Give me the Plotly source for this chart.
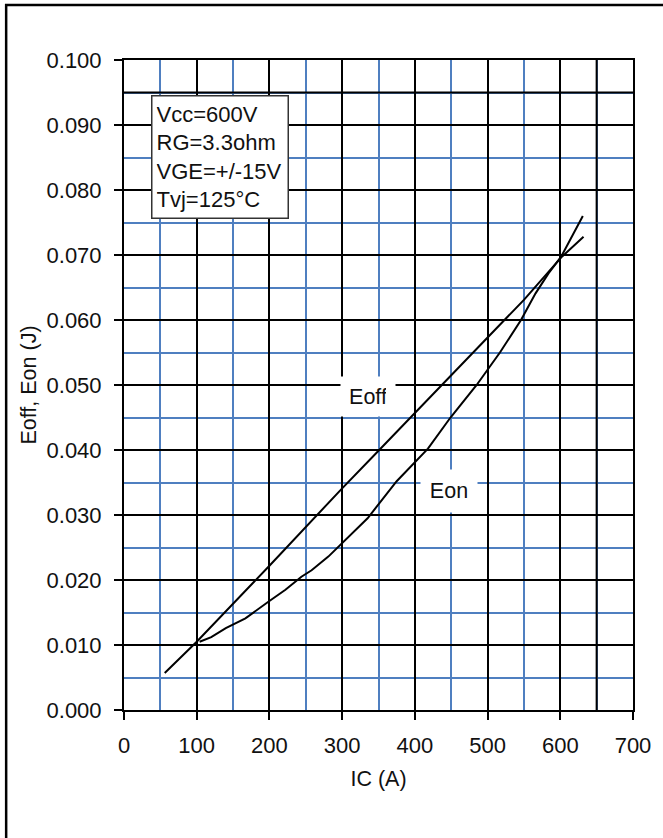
import plotly.graph_objects as go

# ---- data ----
eoff_ic = [56, 100, 200, 300, 351, 437, 523, 550, 601, 632]
eoff_e = [0.0057, 0.0105, 0.0222, 0.0341, 0.0400, 0.0500, 0.0600, 0.0631, 0.0696, 0.0728]

eon_ic = [104, 120, 140, 167, 199, 222, 244, 258, 281, 299, 335, 375, 418, 449,
          485, 517, 546, 566, 584, 601, 620, 631]
eon_e = [0.0105, 0.0112, 0.0126, 0.0141, 0.0167, 0.0185, 0.0205, 0.0215, 0.0236,
         0.0256, 0.0295, 0.0352, 0.0402, 0.0450, 0.0500, 0.0550, 0.0600, 0.0641,
         0.0672, 0.0697, 0.0738, 0.0760]

conditions = ["Vcc=600V", "RG=3.3ohm", "VGE=+/-15V", "Tvj=125°C"]
x_title = "IC (A)"
y_title = "Eoff, Eon (J)"

FONT = "Liberation Sans, Arial, sans-serif"
BLUE = "#4f7fc0"
TXT = "#111"

W, H = 663, 838
ML, MR, MT, MB = 124, 25, 60, 128
PW, PH = W - ML - MR, H - MT - MB

fig = go.Figure()
fig.add_trace(go.Scatter(x=eoff_ic, y=eoff_e, mode="lines",
                         line=dict(color="black", width=2), name="Eoff", showlegend=False))
fig.add_trace(go.Scatter(x=eon_ic, y=eon_e, mode="lines",
                         line=dict(color="black", width=2), name="Eon", showlegend=False))

axis_common = dict(
    showline=True, linecolor="black", linewidth=2, mirror=True,
    ticks="outside", ticklen=8, tickwidth=2, tickcolor="black",
    showgrid=True, gridcolor="black", gridwidth=2,
    zeroline=False,
    tickfont=dict(family=FONT, size=22, color=TXT),
)

fig.update_xaxes(range=[0, 700], dtick=100, tick0=0,
                 minor=dict(dtick=50, showgrid=True, gridcolor=BLUE, gridwidth=1.6, ticks=""),
                 title=dict(text=x_title, font=dict(family=FONT, size=21.5, color=TXT), standoff=14),
                 ticklabelstandoff=7,
                 **axis_common)
fig.update_yaxes(range=[0, 0.1], dtick=0.01, tick0=0, tickformat=".3f",
                 minor=dict(dtick=0.005, showgrid=True, gridcolor=BLUE, gridwidth=1.6, ticks=""),
                 title=dict(text=y_title, font=dict(family=FONT, size=21.5, color=TXT), standoff=4),
                 ticklabelstandoff=8,
                 **axis_common)

# grid quirks of the original: the 650 A and 0.095 J lines are black
fig.add_shape(type="line", xref="x", yref="y", x0=650, x1=650, y0=0, y1=0.1,
              line=dict(color="black", width=2), layer="between")
fig.add_shape(type="line", xref="x", yref="y", x0=0, x1=700, y0=0.095, y1=0.095,
              line=dict(color="black", width=2), layer="between")

# outer frame (only top & left visible in the reference)
fig.add_shape(type="rect", xref="paper", yref="paper",
              x0=(5 - ML) / PW, x1=(720 - ML) / PW,
              y0=1 - (900 - MT) / PH, y1=1 + (MT - 5) / PH,
              line=dict(color="black", width=2.5), fillcolor="rgba(0,0,0,0)")

# curve labels with white background
fig.add_annotation(x=335, y=0.0483, xref="x", yref="y", text="Eoff", showarrow=False,
                   font=dict(family=FONT, size=21.5, color=TXT),
                   bgcolor="white", width=36, height=21, borderpad=9)
fig.add_annotation(x=447, y=0.0337, xref="x", yref="y", text="Eon", showarrow=False,
                   font=dict(family=FONT, size=21.5, color=TXT),
                   bgcolor="white", width=38, height=24, borderpad=9)

# condition box
fig.add_annotation(x=(151.7 - ML) / PW, y=1 - (95 - MT) / PH, xref="paper", yref="paper",
                   xanchor="left", yanchor="top", showarrow=False, align="left",
                   text="<br>".join(conditions),
                   font=dict(family=FONT, size=22, color=TXT),
                   bgcolor="white", bordercolor="#333", borderwidth=1.5,
                   borderpad=4, width=127, height=113)

fig.update_layout(
    width=W, height=H,
    margin=dict(l=ML, r=MR, t=MT, b=MB),
    paper_bgcolor="white", plot_bgcolor="white",
    font=dict(family=FONT, size=21, color=TXT),
)

fig.write_html("out.html")
